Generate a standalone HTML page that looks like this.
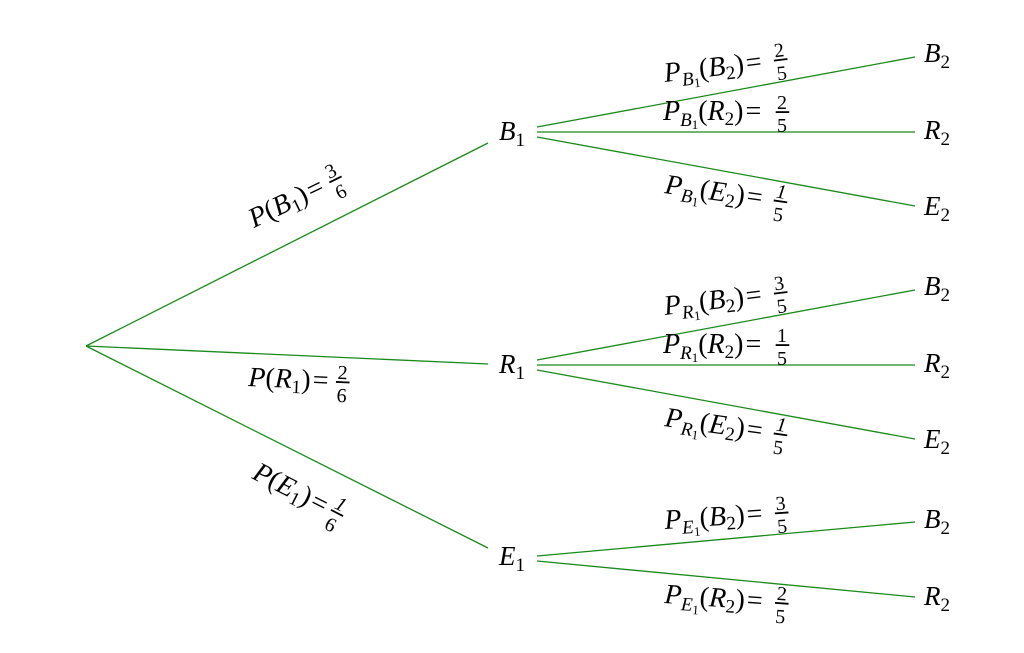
<!DOCTYPE html>
<html><head><meta charset="utf-8"><style>
html,body{margin:0;padding:0;background:#fff;}
svg{display:block;}
text{font-family:"Liberation Serif",serif;fill:#000;}
.i{font-style:italic;}
.b{fill:#000;stroke:#000;stroke-width:0.6;}
</style></head><body>
<svg width="1024" height="653" viewBox="0 0 1024 653" xmlns="http://www.w3.org/2000/svg">
<g stroke="#1a8a1a" stroke-width="1.3" fill="none">
<line x1="86" y1="346" x2="488" y2="143"/>
<line x1="86" y1="346" x2="488" y2="364"/>
<line x1="86" y1="346" x2="488" y2="548"/>
<line x1="537" y1="127" x2="915" y2="57"/>
<line x1="537" y1="132" x2="915" y2="132"/>
<line x1="537" y1="137" x2="915" y2="206"/>
<line x1="537" y1="360" x2="915" y2="290"/>
<line x1="537" y1="365" x2="915" y2="365"/>
<line x1="537" y1="370" x2="915" y2="439"/>
<line x1="537" y1="556" x2="915" y2="522"/>
<line x1="537" y1="561" x2="915" y2="597"/>
</g>
<g font-size="27">
<text x="499" y="140"><tspan class="i">B</tspan><tspan font-size="19" dy="6">1</tspan></text>
<text x="499" y="373"><tspan class="i">R</tspan><tspan font-size="19" dy="6">1</tspan></text>
<text x="499" y="565"><tspan class="i">E</tspan><tspan font-size="19" dy="6">1</tspan></text>
<text x="924" y="62"><tspan class="i">B</tspan><tspan font-size="19" dy="6">2</tspan></text>
<text x="924" y="139"><tspan class="i">R</tspan><tspan font-size="19" dy="6">2</tspan></text>
<text x="924" y="215"><tspan class="i">E</tspan><tspan font-size="19" dy="6">2</tspan></text>
<text x="924" y="295"><tspan class="i">B</tspan><tspan font-size="19" dy="6">2</tspan></text>
<text x="924" y="372"><tspan class="i">R</tspan><tspan font-size="19" dy="6">2</tspan></text>
<text x="924" y="448"><tspan class="i">E</tspan><tspan font-size="19" dy="6">2</tspan></text>
<text x="924" y="528"><tspan class="i">B</tspan><tspan font-size="19" dy="6">2</tspan></text>
<text x="924" y="605"><tspan class="i">R</tspan><tspan font-size="19" dy="6">2</tspan></text>
</g>
<!-- root labels -->
<g transform="translate(254,228) rotate(-26)" font-size="28">
<text x="0" y="0"><tspan class="i">P</tspan>(<tspan class="i">B</tspan><tspan font-size="19" dy="5">1</tspan><tspan dy="-5">)</tspan><tspan dx="2">=</tspan></text>
<text x="94" y="-11" font-size="20" text-anchor="middle">3</text>
<rect class="b" x="88" y="-8.5" width="13" height="1.2"/>
<text x="94" y="12" font-size="20" text-anchor="middle">6</text>
</g>
<g transform="translate(248,386) rotate(2.5)" font-size="28">
<text x="0" y="0"><tspan class="i">P</tspan>(<tspan class="i">R</tspan><tspan font-size="19" dy="5">1</tspan><tspan dy="-5">)</tspan><tspan dx="2">=</tspan></text>
<text x="94" y="-11" font-size="20" text-anchor="middle">2</text>
<rect class="b" x="88" y="-8.5" width="13" height="1.2"/>
<text x="94" y="12" font-size="20" text-anchor="middle">6</text>
</g>
<g transform="translate(251,478) rotate(27)" font-size="28">
<text x="0" y="0"><tspan class="i">P</tspan>(<tspan class="i">E</tspan><tspan font-size="19" dy="5">1</tspan><tspan dy="-5">)</tspan><tspan dx="2">=</tspan></text>
<text x="92" y="-11" font-size="20" text-anchor="middle" class="i">1</text>
<rect class="b" x="86" y="-8.5" width="13" height="1.2"/>
<text x="92" y="12" font-size="20" text-anchor="middle">6</text>
</g>
<!-- branch labels -->
<g font-size="28">
<g transform="translate(665,82) rotate(-7)">
<text><tspan class="i">P</tspan><tspan class="i" font-size="19" dy="6">B</tspan><tspan font-size="13" dy="3">1</tspan><tspan dy="-9">(</tspan><tspan class="i">B</tspan><tspan font-size="19" dy="5">2</tspan><tspan dy="-5">)</tspan><tspan dx="2">=</tspan></text>
<text x="117" y="-11" font-size="20" text-anchor="middle">2</text><rect class="b" x="111" y="-8.5" width="13" height="1.2"/><text x="117" y="12" font-size="20" text-anchor="middle">5</text>
</g>
<g transform="translate(663,120)">
<text><tspan class="i">P</tspan><tspan class="i" font-size="19" dy="6">B</tspan><tspan font-size="13" dy="3">1</tspan><tspan dy="-9">(</tspan><tspan class="i">R</tspan><tspan font-size="19" dy="5">2</tspan><tspan dy="-5">)</tspan><tspan dx="2">=</tspan></text>
<text x="119" y="-11" font-size="20" text-anchor="middle">2</text><rect class="b" x="113" y="-8.5" width="13" height="1.2"/><text x="119" y="12" font-size="20" text-anchor="middle">5</text>
</g>
<g transform="translate(664,193) rotate(8)">
<text><tspan class="i">P</tspan><tspan class="i" font-size="19" dy="6">B</tspan><tspan font-size="13" dy="3">1</tspan><tspan dy="-9">(</tspan><tspan class="i">E</tspan><tspan font-size="19" dy="5">2</tspan><tspan dy="-5">)</tspan><tspan dx="2">=</tspan></text>
<text x="116" y="-11" font-size="20" text-anchor="middle" class="i">1</text><rect class="b" x="110" y="-8.5" width="13" height="1.2"/><text x="116" y="12" font-size="20" text-anchor="middle">5</text>
</g>

<g transform="translate(665,315) rotate(-7)">
<text><tspan class="i">P</tspan><tspan class="i" font-size="19" dy="6">R</tspan><tspan font-size="13" dy="3">1</tspan><tspan dy="-9">(</tspan><tspan class="i">B</tspan><tspan font-size="19" dy="5">2</tspan><tspan dy="-5">)</tspan><tspan dx="2">=</tspan></text>
<text x="117" y="-11" font-size="20" text-anchor="middle">3</text><rect class="b" x="111" y="-8.5" width="13" height="1.2"/><text x="117" y="12" font-size="20" text-anchor="middle">5</text>
</g>
<g transform="translate(663,353)">
<text><tspan class="i">P</tspan><tspan class="i" font-size="19" dy="6">R</tspan><tspan font-size="13" dy="3">1</tspan><tspan dy="-9">(</tspan><tspan class="i">R</tspan><tspan font-size="19" dy="5">2</tspan><tspan dy="-5">)</tspan><tspan dx="2">=</tspan></text>
<text x="119" y="-11" font-size="20" text-anchor="middle">1</text><rect class="b" x="113" y="-8.5" width="13" height="1.2"/><text x="119" y="12" font-size="20" text-anchor="middle">5</text>
</g>
<g transform="translate(664,426) rotate(8)">
<text><tspan class="i">P</tspan><tspan class="i" font-size="19" dy="6">R</tspan><tspan font-size="13" dy="3">1</tspan><tspan dy="-9">(</tspan><tspan class="i">E</tspan><tspan font-size="19" dy="5">2</tspan><tspan dy="-5">)</tspan><tspan dx="2">=</tspan></text>
<text x="116" y="-11" font-size="20" text-anchor="middle" class="i">1</text><rect class="b" x="110" y="-8.5" width="13" height="1.2"/><text x="116" y="12" font-size="20" text-anchor="middle">5</text>
</g>

<g transform="translate(665,529) rotate(-4)">
<text><tspan class="i">P</tspan><tspan class="i" font-size="19" dy="6">E</tspan><tspan font-size="13" dy="3">1</tspan><tspan dy="-9">(</tspan><tspan class="i">B</tspan><tspan font-size="19" dy="5">2</tspan><tspan dy="-5">)</tspan><tspan dx="2">=</tspan></text>
<text x="117" y="-11" font-size="20" text-anchor="middle">3</text><rect class="b" x="111" y="-8.5" width="13" height="1.2"/><text x="117" y="12" font-size="20" text-anchor="middle">5</text>
</g>
<g transform="translate(664,603) rotate(4)">
<text><tspan class="i">P</tspan><tspan class="i" font-size="19" dy="6">E</tspan><tspan font-size="13" dy="3">1</tspan><tspan dy="-9">(</tspan><tspan class="i">R</tspan><tspan font-size="19" dy="5">2</tspan><tspan dy="-5">)</tspan><tspan dx="2">=</tspan></text>
<text x="117" y="-11" font-size="20" text-anchor="middle">2</text><rect class="b" x="111" y="-8.5" width="13" height="1.2"/><text x="117" y="12" font-size="20" text-anchor="middle">5</text>
</g>
</g>
</svg>
</body></html>
